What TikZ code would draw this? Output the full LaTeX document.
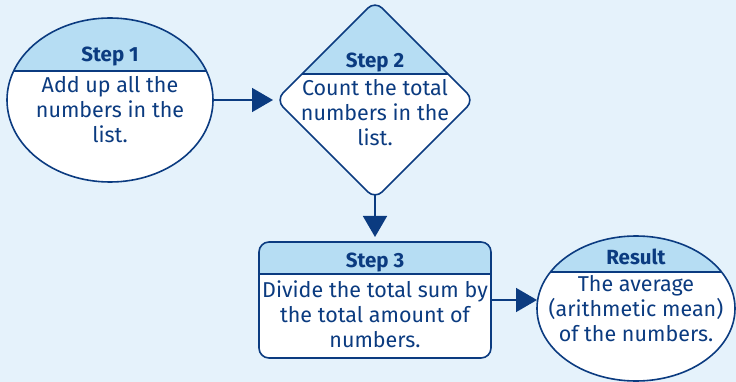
\documentclass[tikz,border=0pt]{standalone}
\usepackage{fontspec}
\setmainfont{Fira Sans}
\usetikzlibrary{shapes.geometric,arrows.meta,backgrounds}
\definecolor{navy}{HTML}{0B3B80}
\definecolor{headfill}{HTML}{B6DDF3}
\definecolor{paper}{HTML}{E5F2FB}
\tikzset{
  outline/.style={draw=navy, line width=1.6pt},
  shapebox/.style={inner sep=0pt, outer sep=0pt, fill=white},
  headtext/.style={text=navy, font=\fontsize{20.5}{24}\selectfont\bfseries},
  bodytext/.style={text=navy, align=center, inner sep=0pt,
    font=\fontsize{21.5}{25}\selectfont},
  link/.style={draw=navy, line width=1.6pt, -{Triangle[length=21pt,width=24pt]}}
}
\begin{document}
\begin{tikzpicture}[x=1pt,y=-1pt]
\useasboundingbox (0,0) rectangle (736,382);

% Step 1: ellipse with shaded title band
\node[shapebox, ellipse, minimum width=206pt, minimum height=164pt] (s1) at (110,100) {};
\begin{scope}
  \clip (s1.center) ellipse [x radius=103, y radius=82];
  \fill[headfill] (0,0) rectangle (230,71);
  \draw[outline] (0,71) -- (230,71);
\end{scope}
\draw[outline] (s1.center) ellipse [x radius=103, y radius=82];
\node[headtext] (h1) at (110,57) {Step 1};
\node[bodytext] (b1) at (110,110) {Add up all the\\numbers in the\\list.};

% Step 2: rounded diamond
\node[shapebox, diamond, minimum width=198pt, minimum height=198pt, aspect=1, rounded corners=10pt] (s2) at (375,100) {};
\begin{scope}
  \clip[rounded corners=10pt] (s2.north) -- (s2.east) -- (s2.south) -- (s2.west) -- cycle;
  \fill[headfill] (270,-5) rectangle (480,74);
  \draw[outline] (270,74) -- (480,74);
\end{scope}
\draw[outline, rounded corners=10pt] (s2.north) -- (s2.east) -- (s2.south) -- (s2.west) -- cycle;
\node[headtext] (h2) at (375,62) {Step 2};
\node[bodytext] (b2) at (375,113) {Count the total\\numbers in the\\list.};

% Step 3: rounded rectangle
\node[shapebox, rectangle, rounded corners=10pt, minimum width=232pt, minimum height=116pt] (s3) at (375,300) {};
\begin{scope}
  \clip[rounded corners=10pt] (s3.north west) rectangle (s3.south east);
  \fill[headfill] (250,230) rectangle (500,274);
  \draw[outline] (250,274) -- (500,274);
\end{scope}
\draw[outline, rounded corners=10pt] (s3.north west) rectangle (s3.south east);
\node[headtext] (h3) at (375,262) {Step 3};
\node[bodytext] (b3) at (375,314) {Divide the total sum by\\the total amount of\\numbers.};

% Result: ellipse
\node[shapebox, ellipse, minimum width=198pt, minimum height=145pt] (s4) at (636,308.5) {};
\begin{scope}
  \clip (s4.center) ellipse [x radius=99, y radius=72.5];
  \fill[headfill] (530,230) rectangle (740,272);
  \draw[outline] (530,272) -- (740,272);
\end{scope}
\draw[outline] (s4.center) ellipse [x radius=99, y radius=72.5];
\node[headtext] (h4) at (636,257) {Result};
\node[bodytext] (b4) at (636,309) {The average\\(arithmetic mean)\\of the numbers.};

% page colour and connectors, kept behind the shapes
\begin{scope}[on background layer]
  \fill[paper] (0,0) rectangle (736,382);
  \draw[link, shorten >=3pt] (s1.center) -- (s2.west);
  \draw[link, shorten >=5pt] (s2.center) -- (s3.north);
  \draw[link] (s3.center |- 0,300) -- (s4.west |- 0,300);
\end{scope}
\end{tikzpicture}
\end{document}
